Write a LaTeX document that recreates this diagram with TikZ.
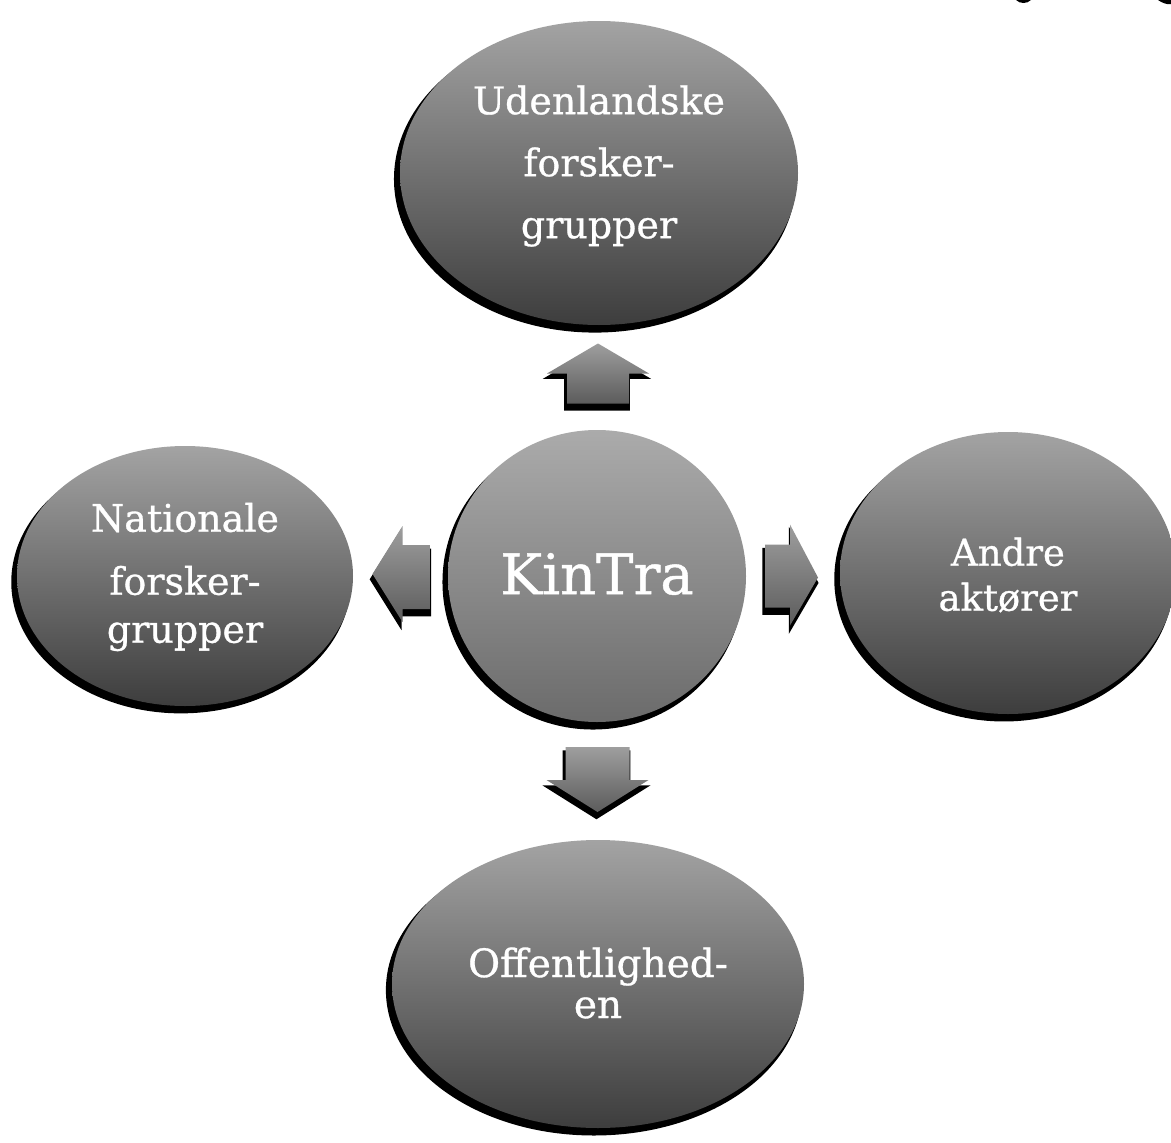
\documentclass[tikz,border=0pt]{standalone}
\usepackage{fontspec}
\setmainfont{DejaVu Serif}
\newfontfamily\lblfont{DejaVu Serif}[FakeBold=0.8]
\usetikzlibrary{shapes.geometric,shadows,calc}
\begin{document}
\begin{tikzpicture}[x=1pt,y=-1pt,
  shad/.style={drop shadow={shadow xshift=-4pt,shadow yshift=-6pt,shadow scale=1.01,fill=black,opacity=1}},
  outer/.style={ellipse,inner sep=0pt,top color=black!36,bottom color=black!76,shad},
  centre/.style={ellipse,inner sep=0pt,top color=black!33,bottom color=black!58,shad},
  lbl/.style={text=white,align=center,inner sep=0pt},
  barrow/.style={top color=black!38,bottom color=black!64,
    drop shadow={shadow xshift=-1pt,shadow yshift=-5pt,shadow scale=1.06,fill=black,opacity=1}}
]
\useasboundingbox[fill=white] (0,0) rectangle (1171,1143);
% small shadow remnants at the top right
\fill[black] (1016,0) .. controls (1020,4) and (1027,4) .. (1031,0) -- cycle;
\fill[black] (1158,0) .. controls (1162,3) and (1168,5) .. (1171,4) -- (1171,0) -- cycle;
% ellipses
\node[outer,minimum width=398pt,minimum height=304pt] (u) at (599,173) {};
\node[centre,minimum width=298pt,minimum height=292pt] (c) at (597,576) {};
\node[outer,minimum width=336pt,minimum height=260pt] (l) at (185,576) {};
\node[outer,minimum width=336pt,minimum height=282pt] (r) at (1008,573) {};
\node[outer,minimum width=412pt,minimum height=288pt] (b) at (598,984) {};
% labels
\node[lbl,font=\lblfont\fontsize{38}{62}\selectfont] (ut) at (599,166) {Udenlandske\\forsker-\\grupper};
\node[lbl,font=\lblfont\fontsize{56}{60}\selectfont] (ct) at (597,574) {KinTra};
\node[lbl,font=\lblfont\fontsize{38}{48}\selectfont] (lt) at (185,577) {Nationale\\[15pt]forsker-\\grupper};
\node[lbl,font=\lblfont\fontsize{37}{45}\selectfont] (rt) at (1008,575) {Andre\\aktører};
\node[lbl,font=\lblfont\fontsize{39}{41}\selectfont] (bt) at (598,983) {Offentlighed-\\en};
% block arrows between the centre and the outer ellipses
\coordinate (mu) at ($(c.north)!0.5!(u.south)$);
\coordinate (md) at ($(c.south)!0.5!(b.north)$);
\coordinate (ml) at ($(c.west)!0.5!(l.east)$);
\coordinate (mr) at ($(c.east)!0.5!(r.west)$);
\path[barrow] ($(mu)+(0,-34)$) -- ($(mu)+(51,-4)$) -- ($(mu)+(31,-4)$) -- ($(mu)+(31,26)$)
  -- ($(mu)+(-31,26)$) -- ($(mu)+(-31,-4)$) -- ($(mu)+(-51,-4)$) -- cycle;
\path[barrow] ($(md)+(-32,-34)$) -- ($(md)+(32,-34)$) -- ($(md)+(32,-1)$) -- ($(md)+(51,-1)$)
  -- ($(md)+(0,31)$) -- ($(md)+(-51,-1)$) -- ($(md)+(-32,-1)$) -- cycle;
\path[barrow] ($(ml)+(-28,-2)$) -- ($(ml)+(2,-50)$) -- ($(ml)+(2,-31)$) -- ($(ml)+(30,-31)$)
  -- ($(ml)+(30,33)$) -- ($(ml)+(2,33)$) -- ($(ml)+(2,46)$) -- cycle;
\path[barrow] ($(mr)+(-28,-30)$) -- ($(mr)+(-3,-30)$) -- ($(mr)+(-3,-50)$) -- ($(mr)+(25,3)$)
  -- ($(mr)+(-3,51)$) -- ($(mr)+(-3,33)$) -- ($(mr)+(-28,33)$) -- cycle;
\end{tikzpicture}
\end{document}
